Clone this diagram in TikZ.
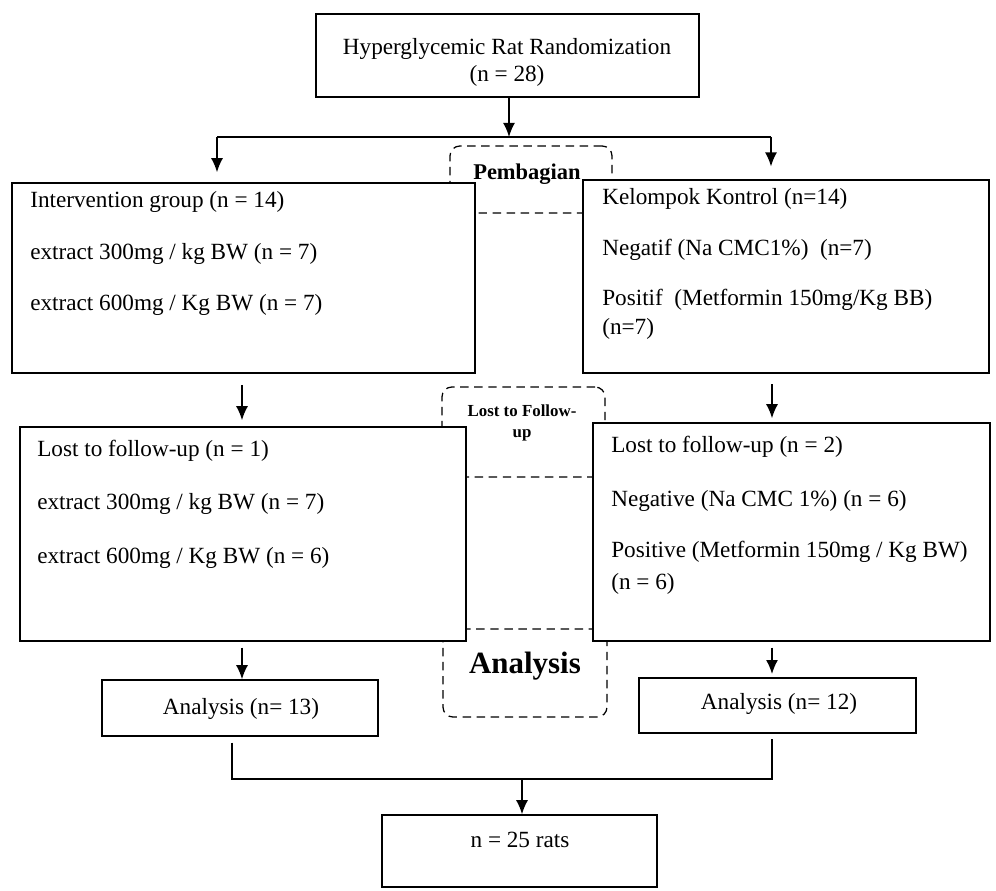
\documentclass[tikz,border=0pt]{standalone}
\usepackage{fontspec}
\setmainfont{Liberation Serif}
\usetikzlibrary{arrows.meta,positioning,fit}

\tikzset{
  box/.style={draw, fill=white, line width=1pt, inner sep=0pt},
  dbox/.style={draw, dash pattern=on 6pt off 4pt, rounded corners=7pt,
               line width=0.9pt, inner sep=0pt},
  txt/.style={anchor=base west, inner sep=0pt, font=\fontsize{16.5}{19}\selectfont},
  ctxt/.style={anchor=base, inner sep=0pt, font=\fontsize{16.5}{19}\selectfont},
  flow/.style={->, line width=1.1pt},
  link/.style={line width=1.1pt},
}

\begin{document}
\begin{tikzpicture}[x=0.025cm, y=-0.025cm, >={Latex[length=10pt,width=8.5pt]}]
\useasboundingbox (0,0) rectangle (996,891);

% dashed stage frames, behind the boxes
\node[dbox, fit={(450,146) (612,213)}] (divide) {};
\node[dbox, fit={(442,387) (605,477)}] (follow) {};
\node[dbox, fit={(443,629) (607,717)}] (analyse) {};

% boxes
\node[box, fit={(316,14) (699,97)}] (rand) {};
\node[box, fit={(12,183) (475,373)}] (grpA) {};
\node[box, fit={(583,180) (989,373)}] (grpB) {};
\node[box, fit={(20,427) (466,641)}] (lostA) {};
\node[box, fit={(593,423) (990,641)}] (lostB) {};
\node[box, fit={(102,680) (378,736)}] (anaA) {};
\node[box, fit={(639,678) (916,733)}] (anaB) {};
\node[box, fit={(382,815) (657,887)}] (total) {};

% texts
\node[ctxt] (randa) at (507,55) {Hyperglycemic Rat Randomization};
\node[ctxt] (randb) at (507,82) {(n = 28)};

\node[txt] (grpAa) at (30,208) {Intervention group (n = 14)};
\node[txt] (grpAb) at (30,260) {extract 300mg / kg BW (n = 7)};
\node[txt] (grpAc) at (30,311) {extract 600mg / Kg BW (n = 7)};

\node[txt] (grpBa) at (602,205) {Kelompok Kontrol (n=14)};
\node[txt] (grpBb) at (602,256) {Negatif (Na CMC1\%)\ \ (n=7)};
\node[txt] (grpBc) at (602,306) {Positif\ \ (Metformin 150mg/Kg BB)};
\node[txt] (grpBd) at (602,335) {(n=7)};

\node[txt] (lostAa) at (37,457) {Lost to follow-up (n = 1)};
\node[txt] (lostAb) at (37,510) {extract 300mg / kg BW (n = 7)};
\node[txt] (lostAc) at (37,564) {extract 600mg / Kg BW (n = 6)};

\node[txt] (lostBa) at (611,453) {Lost to follow-up (n = 2)};
\node[txt] (lostBb) at (611,507) {Negative (Na CMC 1\%) (n = 6)};
\node[txt] (lostBc) at (611,558) {Positive (Metformin 150mg / Kg BW)};
\node[txt] (lostBd) at (611,590) {(n = 6)};

\node[ctxt] (anaAa) at (241,715) {Analysis (n= 13)};
\node[ctxt] (anaBa) at (779,710) {Analysis (n= 12)};
\node[ctxt] (totala) at (520,848) {n = 25 rats};

% stage labels
\node[anchor=base, inner sep=0pt, font=\fontsize{16}{19}\selectfont\bfseries]
  (dividea) at (527,180) {Pembagian};
\node[anchor=base, inner sep=0pt, font=\fontsize{12}{14}\selectfont\bfseries]
  (followa) at (522,417) {Lost to Follow-};
\node[anchor=base, inner sep=0pt, font=\fontsize{12}{14}\selectfont\bfseries]
  (followb) at (522,438) {up};
\node[anchor=base, inner sep=0pt, font=\fontsize{22}{26}\selectfont\bfseries]
  (analysea) at (525,674) {Analysis};

% connectors
\coordinate (split) at (509,137);
\coordinate (splitL) at (217,137);
\coordinate (splitR) at (771,137);
\coordinate (colA) at (242,0);
\coordinate (colB) at (772,0);
\coordinate (join) at (522,779);

\draw[flow] (split |- rand.south) -- (split);
\draw[link] (splitL) -- (splitR);
\draw[flow, shorten >=2.5mm] (splitL) -- (splitL |- grpA.north);
\draw[flow, shorten >=3.2mm] (splitR) -- (splitR |- grpB.north);

\draw[flow, shorten <=2.8mm, shorten >=1.5mm] (colA |- grpA.south) -- (colA |- lostA.north);
\draw[flow, shorten <=2.6mm, shorten >=1mm] (colB |- grpB.south) -- (colB |- lostB.north);

\draw[flow, shorten <=1.5mm] (colA |- lostA.south) -- (colA |- anaA.north);
\draw[flow, shorten <=1.5mm, shorten >=0.8mm] (colB |- lostB.south) -- (colB |- anaB.north);

\draw[link, shorten <=1.5mm, shorten >=1.2mm]
  ([xshift=-8*0.025cm]anaA.south) |- (join) -| (colB |- anaB.south);
\draw[flow] (join) -- (join |- total.north);
\end{tikzpicture}
\end{document}
